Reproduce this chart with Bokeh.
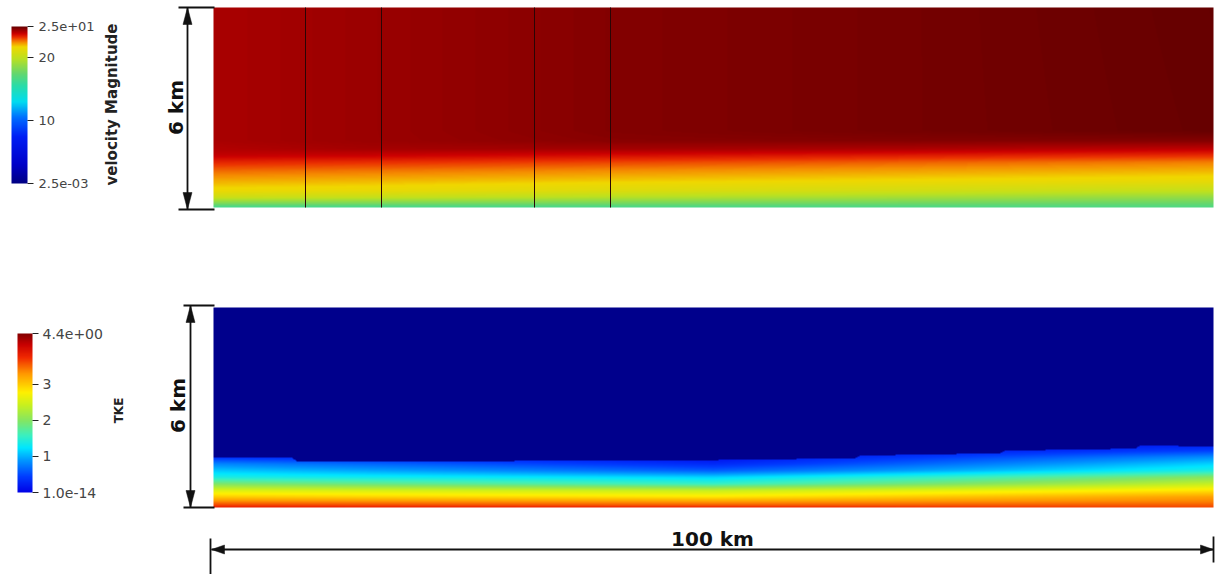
import numpy as np
from bokeh.plotting import figure
from bokeh.models import Range1d, LinearColorMapper, ColorBar, FixedTicker, Label
from bokeh.embed import file_html
from bokeh.resources import INLINE

# ---------------- data ----------------
# velocity magnitude (m/s): rows follow vel_z_km, columns follow vel_x_km
vel_x_km = [0.0, 15.0, 40.0, 70.0, 100.0]
vel_z_km = [0.0, 0.1, 0.3, 0.5, 0.8, 1.1, 1.35, 1.55, 1.75, 2.0, 2.3, 6.0]
vel_ms = [
    [16.5, 16.5, 16.6, 16.7, 16.8],
    [18.0, 17.9, 17.8, 17.7, 17.5],
    [20.5, 20.3, 19.8, 19.3, 18.8],
    [21.6, 21.5, 21.1, 20.7, 20.2],
    [22.2, 22.1, 21.9, 21.7, 21.5],
    [22.8, 22.7, 22.5, 22.3, 22.1],
    [23.4, 23.3, 23.1, 22.85, 22.6],
    [23.95, 23.9, 23.7, 23.5, 23.3],
    [24.15, 24.3, 24.3, 24.2, 24.0],
    [24.25, 24.4, 24.6, 24.65, 24.65],
    [24.25, 24.4, 24.65, 24.8, 24.95],
    [24.25, 24.4, 24.65, 24.8, 24.97],
]
vel_range = [0.0025, 25.0]
vel_ticks = [0.0025, 10.0, 20.0, 25.0]
vel_tick_labels = ["2.5e-03", "10", "20", "2.5e+01"]
# mesh block edges drawn over the velocity field (km)
block_edges_km = [9.2, 16.8, 32.1, 39.7]

# turbulent kinetic energy: rows follow tke_z_km, columns follow tke_x_km
tke_x_km = [0.0, 50.0, 100.0]
tke_z_km = [0.0, 0.05, 0.15, 0.3, 0.5, 0.7, 0.9, 1.1, 1.3, 1.5, 1.7, 1.9]
tke_vals = [
    [3.8, 3.75, 3.6],
    [3.65, 3.55, 3.55],
    [3.4, 3.3, 3.4],
    [3.0, 2.85, 3.25],
    [2.55, 2.4, 2.85],
    [1.95, 1.55, 2.4],
    [1.4, 1.15, 2.0],
    [1.1, 0.6, 1.4],
    [0.8, 0.3, 1.15],
    [0.35, 0.1, 0.85],
    [0.1, 0.0, 0.45],
    [0.0, 0.0, 0.2],
]
# top of the turbulent layer (km); TKE is zero above it
tke_top_x_km = [0.0, 7.7, 8.4, 48.7, 64.2, 64.7, 78.7, 79.2, 92.2, 92.7, 100.0]
tke_top_km = [1.50, 1.50, 1.36, 1.41, 1.47, 1.55, 1.62, 1.70, 1.76, 1.86, 1.82]
tke_range = [1.0e-14, 4.4]
tke_ticks = [1.0e-14, 1.0, 2.0, 3.0, 4.4]
tke_tick_labels = ["1.0e-14", "1", "2", "3", "4.4e+00"]

domain_len_km = 100.0
domain_height_km = 6.0

# ---------------- layout helpers ----------------
W, H = 1216, 574
ORIGIN_PX = (213.0, 507.0)          # lower-left corner of the TKE panel
PX_PER_KM_X = 10.0
PX_PER_KM_Y = 200.0 / 6.0
UPPER_Y0 = 9.0                      # velocity panel sits 9 km above the TKE panel


def X(px):
    return (px - ORIGIN_PX[0]) / PX_PER_KM_X


def Y(py):
    return (ORIGIN_PX[1] - py) / PX_PER_KM_Y


def make_palette(stops, n=768):
    f = np.array([s[0] for s in stops])
    rgb = np.array([s[1] for s in stops], dtype=float)
    t = np.linspace(0, 1, n)
    cols = []
    for v in t:
        r = np.interp(v, f, rgb[:, 0])
        g = np.interp(v, f, rgb[:, 1])
        b = np.interp(v, f, rgb[:, 2])
        cols.append("#%02x%02x%02x" % (int(round(r)), int(round(g)), int(round(b))))
    return cols


vel_palette = make_palette([
    (0.00, (0, 0, 130)), (0.12, (0, 0, 200)), (0.30, (0, 30, 245)),
    (0.42, (0, 110, 255)), (0.52, (0, 220, 240)), (0.62, (40, 220, 170)),
    (0.70, (100, 215, 110)), (0.80, (190, 225, 30)), (0.87, (240, 215, 0)),
    (0.90, (245, 140, 0)), (0.93, (235, 50, 0)), (0.955, (205, 0, 0)),
    (0.97, (170, 0, 0)), (0.985, (135, 0, 0)), (1.00, (100, 0, 0)),
])
tke_palette = make_palette([
    (0.00, (0, 0, 230)), (0.10, (0, 60, 255)), (0.20, (0, 150, 255)),
    (0.28, (0, 230, 255)), (0.36, (60, 240, 190)), (0.45, (130, 230, 100)),
    (0.55, (200, 240, 30)), (0.63, (255, 240, 0)), (0.75, (255, 150, 0)),
    (0.85, (240, 40, 0)), (0.93, (200, 0, 0)), (1.00, (130, 0, 0)),
])


def field_from_table(xs, zs, table, nx=1000, nz=200):
    """Sample a (z, x) table onto a regular grid, bottom row first."""
    table = np.asarray(table, dtype=float)
    gx = np.linspace(0, domain_len_km, nx)
    gz = np.linspace(0, domain_height_km, nz)
    rows_on_x = np.array([np.interp(gx, xs, row) for row in table])
    out = np.empty((nz, nx))
    for j in range(nx):
        out[:, j] = np.interp(gz, zs, rows_on_x[:, j])
    return gx, gz, out


_, _, vel_img = field_from_table(vel_x_km, vel_z_km, vel_ms)
gx, gz, tke_img = field_from_table(tke_x_km, tke_z_km, tke_vals)
layer_top = np.interp(gx, tke_top_x_km, tke_top_km)
tke_img[gz[:, None] > layer_top[None, :]] = 0.0

# ---------------- figure ----------------
p = figure(width=W, height=H, x_range=Range1d(X(0), X(W)), y_range=Range1d(Y(H), Y(0)),
           output_backend="svg", toolbar_location=None, min_border=0,
           x_axis_type=None, y_axis_type=None, outline_line_color=None,
           background_fill_color="white", border_fill_color="white")
p.grid.visible = False

vel_mapper = LinearColorMapper(palette=vel_palette, low=vel_range[0], high=vel_range[1])
tke_mapper = LinearColorMapper(palette=tke_palette, low=tke_range[0], high=tke_range[1],
                               low_color="#00008c")

p.image(image=[vel_img], x=0, y=UPPER_Y0, dw=domain_len_km, dh=domain_height_km,
        color_mapper=vel_mapper)
p.image(image=[tke_img], x=0, y=0, dw=domain_len_km, dh=domain_height_km,
        color_mapper=tke_mapper)

p.segment(x0=block_edges_km, y0=UPPER_Y0, x1=block_edges_km, y1=UPPER_Y0 + domain_height_km,
          line_color="#2a0505", line_width=1)

# colour bars
label_font = "DejaVu Sans"
cb_vel = ColorBar(color_mapper=vel_mapper, ticker=FixedTicker(ticks=vel_ticks),
                  major_label_overrides={t: s for t, s in zip(vel_ticks, vel_tick_labels)},
                  orientation="vertical", width=16, height=157, location=(11, H - 183),
                  padding=0, margin=0, title=None, bar_line_color=None,
                  major_tick_in=0, major_tick_out=6, major_tick_line_color="#222222",
                  major_tick_line_width=1.2, minor_tick_out=0, minor_tick_line_color=None,
                  label_standoff=5, major_label_text_font=label_font,
                  major_label_text_font_size="13px", major_label_text_color="#444444",
                  background_fill_alpha=0, border_line_color=None)
cb_tke = ColorBar(color_mapper=tke_mapper, ticker=FixedTicker(ticks=tke_ticks),
                  major_label_overrides={t: s for t, s in zip(tke_ticks, tke_tick_labels)},
                  orientation="vertical", width=15, height=159, location=(17, H - 492),
                  padding=0, margin=0, title=None, bar_line_color=None,
                  major_tick_in=0, major_tick_out=6, major_tick_line_color="#222222",
                  major_tick_line_width=1.2, minor_tick_out=0, minor_tick_line_color=None,
                  label_standoff=4, major_label_text_font=label_font,
                  major_label_text_font_size="14px", major_label_text_color="#444444",
                  background_fill_alpha=0, border_line_color=None)
p.add_layout(cb_vel)
p.add_layout(cb_tke)

# colour bar titles
p.add_layout(Label(x=X(111), y=Y(104), text="velocity Magnitude", angle=np.pi / 2,
                   text_align="center", text_baseline="middle", text_font=label_font,
                   text_font_style="bold", text_font_size="15px", text_color="#222222"))
p.add_layout(Label(x=X(118), y=Y(410), text="TKE", angle=np.pi / 2,
                   text_align="center", text_baseline="middle", text_font=label_font,
                   text_font_style="bold", text_font_size="12px", text_color="#222222"))

# dimension lines
ink = "#111111"


def dim_segments(segs):
    p.segment(x0=[X(s[0]) for s in segs], y0=[Y(s[1]) for s in segs],
              x1=[X(s[2]) for s in segs], y1=[Y(s[3]) for s in segs],
              line_color=ink, line_width=1.8)


def heads(tris):
    p.patches(xs=[[X(a) for a, _ in t] for t in tris], ys=[[Y(b) for _, b in t] for t in tris],
              fill_color=ink, line_color=ink, line_width=0.5)


def v_arrow(xc, top, bot, bar_l, bar_r):
    dim_segments([(xc, top, xc, bot), (bar_l, top, bar_r, top), (bar_l, bot, bar_r, bot)])
    heads([[(xc, top), (xc - 4.5, top + 17), (xc + 4.5, top + 17)],
           [(xc, bot), (xc - 4.5, bot - 17), (xc + 4.5, bot - 17)]])


v_arrow(187, 7, 209, 178, 214)
v_arrow(190, 305, 507, 183, 214)

# horizontal 100 km dimension
yh = 549
dim_segments([(211, yh, 1213, yh), (210, 538, 210, 574), (1213, 536, 1213, 562)])
heads([[(211, yh), (224, yh - 4.5), (224, yh + 4.5)],
       [(1213, yh), (1200, yh - 4.5), (1200, yh + 4.5)]])

for xt, yt in [(175, 107), (177, 405)]:
    p.add_layout(Label(x=X(xt), y=Y(yt), text="6 km", angle=np.pi / 2,
                       text_align="center", text_baseline="middle", text_font=label_font,
                       text_font_style="bold", text_font_size="20px", text_color=ink))
p.add_layout(Label(x=X(712), y=Y(538), text="100 km", text_align="center",
                   text_baseline="middle", text_font=label_font, text_font_style="bold",
                   text_font_size="20px", text_color=ink))

open("out.html", "w").write(file_html(p, INLINE))
